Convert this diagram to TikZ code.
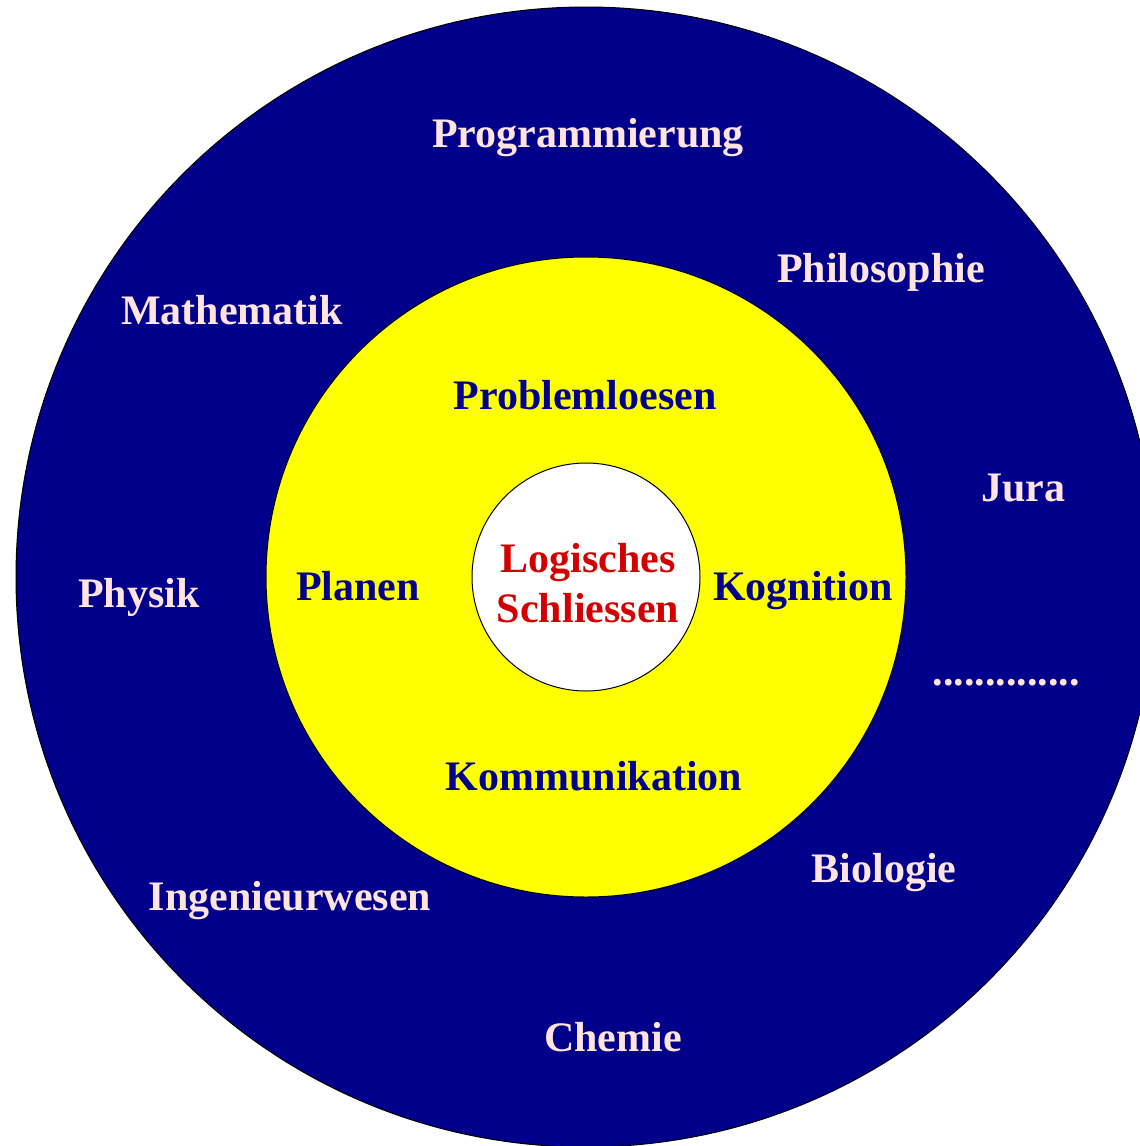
\documentclass[tikz,border=0pt]{standalone}
\usepackage{fontspec}
\setmainfont{Liberation Serif}
\definecolor{outerblue}{RGB}{0,0,139}
\definecolor{innerYellow}{RGB}{255,255,0}
\definecolor{labelpink}{RGB}{255,228,225}
\definecolor{coreRed}{RGB}{210,0,0}
\tikzset{
  field/.style={anchor=base, text=labelpink, font=\bfseries\fontsize{42}{50}\selectfont, inner sep=0pt},
  skill/.style={anchor=base, text=outerblue, font=\bfseries\fontsize{42}{50}\selectfont, inner sep=0pt},
  core/.style={text=coreRed, font=\bfseries\fontsize{42}{50}\selectfont, align=center, inner sep=0pt}
}
\begin{document}
\begin{tikzpicture}[x=1pt,y=-1pt]

    % Define the frame
    \useasboundingbox (0,0) rectangle (1140,1146);
    \clip (0,0) rectangle (1140,1146);

    % Define the centre
    \coordinate (O) at (586, 577);

    % Draw the three circles
    \draw[black, line width=1pt, fill=outerblue] (O) circle (570);
    \draw[black, line width=1pt, fill=innerYellow] (O) circle (320);
    \draw[black, line width=1pt, fill=white] (O) circle (114);

    % Label the core
    \node[core] (logik) at (588, 583) {Logisches\\Schliessen};

    % Label the inner ring
    \node[skill] (problem) at (585, 409) {Problemloesen};
    \node[skill] (planen) at (358, 600) {Planen};
    \node[skill] (kognition) at (803, 600) {Kognition};
    \node[skill] (kommunikation) at (594, 790) {Kommunikation};

    % Label the outer ring
    \node[field] (prog) at (588, 147) {Programmierung};
    \node[field] (philo) at (881, 282) {Philosophie};
    \node[field] (mathe) at (232, 324) {Mathematik};
    \node[field] (jura) at (1023, 501) {Jura};
    \node[field] (physik) at (139, 607) {Physik};
    \node[field] (dots) at (1006, 685) {..............};
    \node[field] (bio) at (884, 882) {Biologie};
    \node[field] (ing) at (290, 910) {Ingenieurwesen};
    \node[field] (chemie) at (613, 1051) {Chemie};

\end{tikzpicture}
\end{document}
